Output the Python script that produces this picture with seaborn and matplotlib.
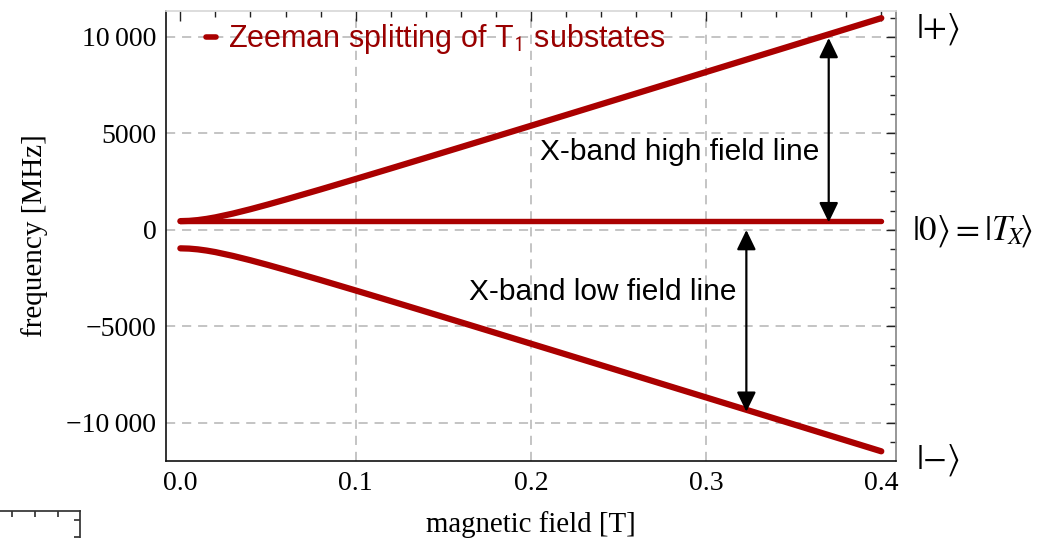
import matplotlib
matplotlib.use("Agg")
import matplotlib.pyplot as plt
import seaborn as sns
import pandas as pd

# Zeeman levels of the T1 triplet (MHz) versus magnetic field (T)
field = [0.0, 0.005, 0.01, 0.015, 0.02, 0.03, 0.04, 0.05, 0.06, 0.08,
         0.10, 0.12, 0.14, 0.16, 0.18, 0.20, 0.22, 0.24, 0.26, 0.28,
         0.30, 0.32, 0.34, 0.36, 0.38, 0.40]
level_plus = [460, 474, 514, 576, 655, 852, 1078, 1322, 1577, 2103,
              2642, 3188, 3738, 4290, 4844, 5399, 5955, 6512, 7069, 7627,
              8185, 8743, 9301, 9860, 10418, 10977]
level_zero = [460] * len(field)
level_minus = [-950, -964, -1004, -1066, -1145, -1342, -1568, -1812, -2067, -2593,
               -3132, -3678, -4228, -4780, -5334, -5889, -6445, -7002, -7559, -8117,
               -8675, -9233, -9791, -10350, -10908, -11467]

x_ticks = [0.0, 0.1, 0.2, 0.3, 0.4]
x_tick_labels = ["0.0", "0.1", "0.2", "0.3", "0.4"]
y_ticks = [-10000, -5000, 0, 5000, 10000]
y_tick_labels = ["\u221210\u2009000", "\u22125000", "0", "5000", "10\u2009000"]
x_grid = [0.1, 0.2, 0.3]

# transition arrows: (field, from level, to level)
high_field_arrow = (0.370, 400, 9950)
low_field_arrow = (0.323, 0, -9420)

df = pd.DataFrame({"field": field, "plus": level_plus,
                   "zero": level_zero, "minus": level_minus})

sns.set_theme(style="white")
plt.rcParams["font.family"] = ["Liberation Serif", "DejaVu Serif"]
plt.rcParams["mathtext.fontset"] = "stix"
plt.rcParams["text.color"] = "black"
plt.rcParams["axes.labelcolor"] = "black"

LINE = "#aa0000"
GRID = "#b4b4b4"

fig = plt.figure(figsize=(10.37, 5.38), dpi=100)
ax = fig.add_axes([166 / 1037, 77 / 538, 730 / 1037, 450 / 538])

for xv in x_grid:
    ax.axvline(xv, color=GRID, lw=1.1, dashes=(6, 4.5), zorder=0)
for yv in y_ticks:
    ax.axhline(yv, color=GRID, lw=1.1, dashes=(6, 4.5), zorder=0)

sns.lineplot(data=df, x="field", y="plus", ax=ax, color=LINE, lw=4.5,
             label=r"Zeeman splitting of T$_\mathsf{1}$ substates", zorder=3)
sns.lineplot(data=df, x="field", y="zero", ax=ax, color=LINE, lw=3.9,
             label="_nolegend_", zorder=3)
sns.lineplot(data=df, x="field", y="minus", ax=ax, color=LINE, lw=4.5,
             label="_nolegend_", zorder=3)

ax.set_xlim(-0.0082, 0.4084)
ax.set_ylim(-11969, 11347)
ax.set_xticks(x_ticks, labels=x_tick_labels)
ax.set_yticks(y_ticks, labels=y_tick_labels)
ax.set_xticks([v / 100 for v in range(0, 41, 2)], minor=True)
ax.set_yticks(list(range(-11000, 11001, 1000)), minor=True)
ax.tick_params(which="both", direction="in", top=True, right=True,
               colors="#222222", labelcolor="black", labelsize=20, pad=7)
ax.tick_params(which="major", length=7, width=1)
ax.tick_params(which="minor", length=4, width=1)

for side in ("left", "bottom"):
    ax.spines[side].set_color("#111111")
    ax.spines[side].set_linewidth(1.2)
ax.spines["top"].set_color("#d8d8d8")
ax.spines["right"].set_color("#8a8a8a")

ax.set_xlabel("magnetic field [T]", fontsize=20.8, labelpad=11, color="black")
ax.set_ylabel("frequency [MHz]", fontsize=21, labelpad=13, color="black")

leg = ax.legend(loc="upper left", bbox_to_anchor=(0.017, 1.036), frameon=False,
                handlelength=0.33, handletextpad=0.38,
                prop={"family": "Liberation Sans", "size": 22},
                labelcolor="#990000")
for h in leg.get_lines():
    h.set_linewidth(4)

sans = {"family": "Liberation Sans", "size": 21.5, "color": "black"}
ax.text(0.2051, 3627, "X-band high field line", ha="left", va="baseline", **sans)
ax.text(0.1647, -3627, "X-band low field line", ha="left", va="baseline", **sans)

for xa, y0, y1 in (high_field_arrow, low_field_arrow):
    ax.annotate("", xy=(xa, y1), xytext=(xa, y0),
                arrowprops=dict(arrowstyle="<|-|>,head_length=0.6,head_width=0.29",
                                mutation_scale=20, color="black", lw=1.6,
                                shrinkA=0, shrinkB=0), zorder=4)

state_kw = dict(fontsize=25, ha="left", va="center")
fig.text(916 / 1037, 1 - 29 / 538, r"$|{+}\rangle$", **state_kw)
fig.text(912 / 1037, 1 - 231 / 538,
         r"$|0\rangle{=}|T_{\!X}\!\rangle$", **state_kw)
fig.text(916 / 1037, 1 - 460 / 538, r"$|{-}\rangle$", **state_kw)

# corner of a neighbouring frame at the lower left
corner = fig.add_axes([0, 0, 80 / 1037, 27 / 538])
corner.set_xlim(0, 80)
corner.set_ylim(0, 27)
corner.patch.set_alpha(0)
for side in ("left", "bottom"):
    corner.spines[side].set_visible(False)
for side in ("top", "right"):
    corner.spines[side].set_color("#333333")
corner.set_xticks([11.7, 35, 58.3])
corner.set_yticks([1, 18])
corner.tick_params(direction="in", top=True, bottom=False, right=True, left=False,
                   labeltop=False, labelbottom=False, labelleft=False,
                   length=4, colors="#333333")

fig.savefig("out.png", dpi=100)
